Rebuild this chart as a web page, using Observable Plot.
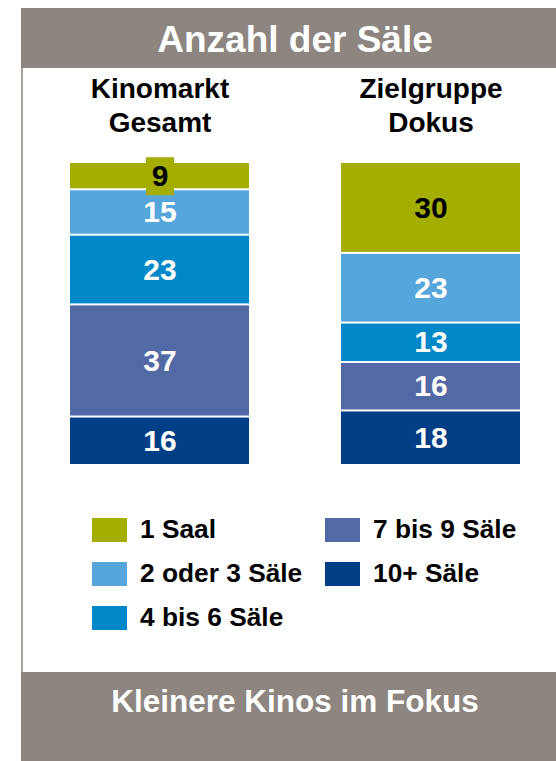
<!DOCTYPE html>
<html><head><meta charset="utf-8">
<script src="https://cdn.jsdelivr.net/npm/d3@7"></script>
<script src="https://cdn.jsdelivr.net/npm/@observablehq/plot@0.6"></script>
<style>
html,body{margin:0;padding:0;background:#fff;overflow:hidden;width:556px;height:761px;}
body{position:relative;font-family:"Liberation Sans",Arial,Helvetica,sans-serif;}
#title{position:absolute;left:21px;top:8px;width:548px;height:60px;background:#8c8580;color:#fff;font-weight:bold;font-size:37px;line-height:63px;text-align:center;white-space:nowrap;overflow:hidden}
#side{position:absolute;left:21px;top:68px;height:604px;width:0;border-left:2px solid #aaa4a0}
#footer{position:absolute;left:21px;top:672px;width:548px;height:89px;background:#8c8580;color:#fff;font-weight:bold;font-size:31.5px;line-height:58px;text-align:center;white-space:nowrap}
#chart{position:absolute;left:21px;top:68px}
.item{position:absolute;height:30px;display:flex;align-items:center;font-weight:bold;font-size:26.3px;color:#000;white-space:nowrap}
.sw{width:35px;height:24px;margin-right:13px;flex:none}
</style></head><body>
<div id="title"></div>
<div id="side"></div>
<div id="chart"></div>
<div id="legend"></div>
<div id="footer"></div>
<script>
const titleText = "Anzahl der Säle";
const footerText = "Kleinere Kinos im Fokus";
const groups = ["Kinomarkt\nGesamt", "Zielgruppe\nDokus"];
const categories = ["1 Saal", "2 oder 3 Säle", "4 bis 6 Säle", "7 bis 9 Säle", "10+ Säle"];
const colors = ["#a3ae00", "#56a6dc", "#0088c9", "#5369a5", "#003f86"];
const kinomarktGesamt = [9, 15, 23, 37, 16];
const zielgruppeDokus = [30, 23, 13, 16, 18];

document.getElementById("title").textContent = titleText;
document.getElementById("footer").textContent = footerText;

const seriesValues = [kinomarktGesamt, zielgruppeDokus];
const table = [];
groups.forEach((g, gi) => categories.forEach((c, ci) => table.push({group: g, category: c, value: seriesValues[gi][ci]})));
const stackOrder = [...categories].reverse();

const boxSymbol = {draw(ctx) { ctx.rect(-14, -19, 28, 38); }};

const font = '"Liberation Sans", Arial, Helvetica, sans-serif';
const chart = Plot.plot({
  width: 535, height: 412,
  marginLeft: 48, marginRight: 35, marginTop: 94, marginBottom: 15,
  x: {domain: groups, paddingInner: 0.338, paddingOuter: 0},
  y: {domain: [0, 100], axis: null},
  color: {domain: categories, range: colors},
  style: {fontFamily: font, background: "transparent", overflow: "visible"},
  marks: [
    Plot.barY(table, Plot.stackY({x: "group", y: "value", fill: "category", order: stackOrder, insetTop: 1, insetBottom: 1})),
    Plot.dot(table, Plot.stackY({x: "group", y: "value", z: "category", fill: "category", order: stackOrder,
      r: d => d.value < 10 ? 1 : 0, symbol: boxSymbol})),
    Plot.text(table, Plot.stackY({x: "group", y: "value", z: "category", order: stackOrder,
      text: d => d.category === categories[0] ? String(d.value) : null,
      fill: "black", fontSize: 30, fontWeight: "bold"})),
    Plot.text(table, Plot.stackY({x: "group", y: "value", z: "category", order: stackOrder,
      text: d => d.category !== categories[0] ? String(d.value) : null,
      fill: "white", fontSize: 30, fontWeight: "bold"})),
    Plot.axisX({anchor: "top", tickSize: 0, tickPadding: 31, fontSize: 28, fontWeight: "bold", lineHeight: 1.18, label: null, fill: "black"})
  ]
});
document.getElementById("chart").appendChild(chart);

const legend = document.getElementById("legend");
const colLeft = [92, 325];
categories.forEach((c, i) => {
  const col = i < 3 ? 0 : 1, row = i < 3 ? i : i - 3;
  const item = document.createElement("div");
  item.className = "item";
  item.style.left = colLeft[col] + "px";
  item.style.top = (514.5 + 44 * row) + "px";
  const sw = document.createElement("div");
  sw.className = "sw";
  sw.style.background = colors[i];
  const t = document.createElement("span");
  t.textContent = c;
  item.appendChild(sw); item.appendChild(t);
  legend.appendChild(item);
});
</script>
</body></html>
